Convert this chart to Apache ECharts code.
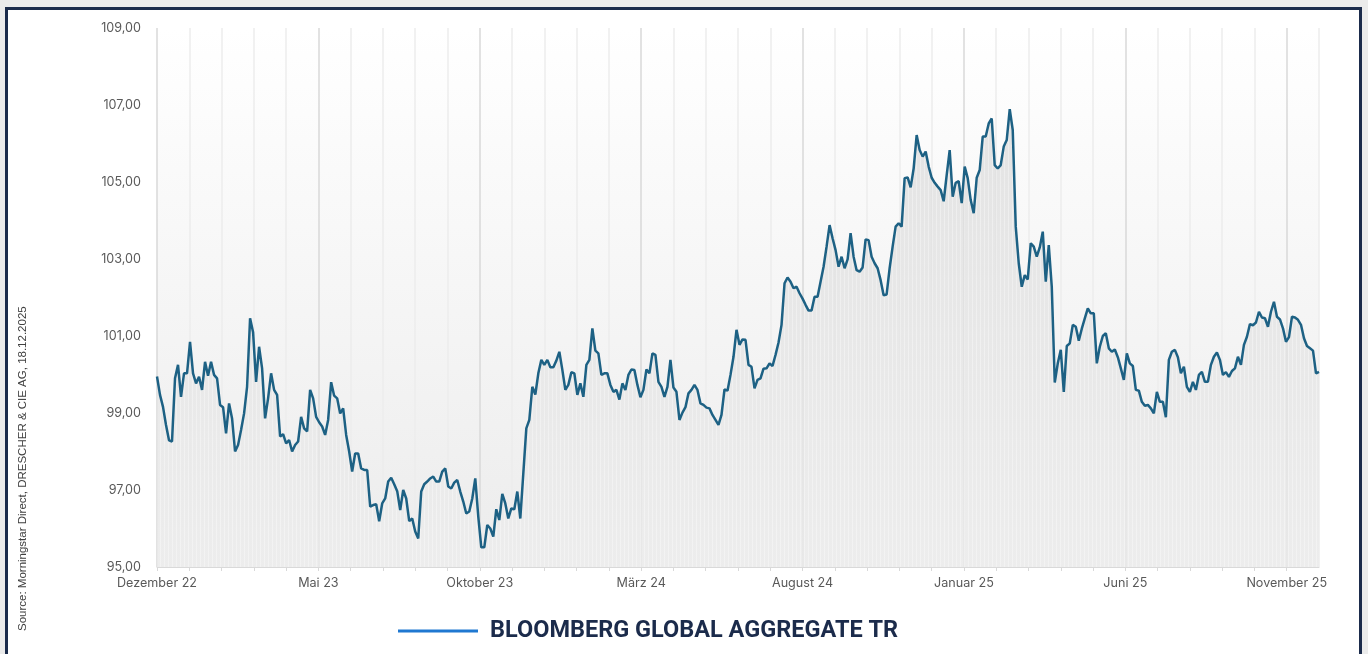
<!DOCTYPE html>
<html>
<head>
<meta charset="utf-8">
<script src="https://cdn.jsdelivr.net/npm/echarts@6/dist/echarts.min.js"></script>
<style>
  html, body { margin: 0; padding: 0; background: #ebebeb; overflow: hidden; }
  #frame { position: absolute; left: 5px; top: 7px; width: 1357px; height: 700px; box-sizing: border-box;
           border: 3px solid #1b2b4b; background: #fff; }
  #chart { position: absolute; left: 0; top: 0; width: 1368px; height: 654px; }
</style>
</head>
<body>
<div id="frame"></div>
<div id="chart"></div>
<script>
'use strict';

// ---- palette ----
const C = { line: '#1d6184', legend: '#1f78d1', label: '#595959', grid: '#ececec', gridMajor: '#d9d9d9', ink: '#1b2b4b' };

// ---- data: Bloomberg Global Aggregate TR, Dec 2022 .. Dec 2025 ----
const SERIES_NAME = 'BLOOMBERG GLOBAL AGGREGATE TR';
const MONTHS = 36; // Dezember 22 -> Dezember 25
const xLabels = ['Dezember 22', 'Mai 23', 'Oktober 23', 'März 24', 'August 24', 'Januar 25', 'Juni 25', 'November 25'];
const yTicks = [95, 97, 99, 101, 103, 105, 107, 109];

const values2023a = [
  99.95, 99.47, 99.16, 98.69, 98.29, 98.26, 99.90, 100.25, 99.42, 100.03,
  100.03, 100.85, 100.03, 99.77, 99.94, 99.60, 100.33, 99.97, 100.33, 99.99,
  99.90, 99.21, 99.15, 98.47, 99.25, 98.86, 98.00, 98.17, 98.56, 98.99,
  99.68, 101.46, 101.10, 99.81, 100.72, 100.16, 98.86, 99.38, 100.03, 99.60,
  99.47, 98.39, 98.45, 98.21, 98.30, 98.00, 98.17, 98.26, 98.90, 98.60,
  98.52, 99.60, 99.38, 98.90, 98.76, 98.65, 98.43, 98.82, 99.80, 99.45,
  99.38, 98.99, 99.12, 98.43, 98.00, 97.48, 97.95, 97.95, 97.56, 97.52,
  97.52, 96.57, 96.61, 96.63, 96.19, 96.65, 96.78, 97.22, 97.32, 97.15,
  96.97, 96.48, 97.00, 96.78, 96.19, 96.26, 95.92, 95.74, 96.96, 97.15,
  97.22, 97.30, 97.35, 97.22, 97.22, 97.48, 97.56, 97.09
];
const values2023b = [
  97.04, 97.19, 97.26, 96.96, 96.70, 96.39, 96.44, 96.78, 97.30, 96.31,
  95.51, 95.51, 96.09, 96.00, 95.79, 96.50, 96.22, 96.90, 96.65, 96.26,
  96.52, 96.50, 96.96, 96.26, 97.43, 98.60, 98.82, 99.68, 99.48, 100.03,
  100.38, 100.25, 100.38, 100.19, 100.19, 100.36, 100.59, 100.12, 99.60, 99.73,
  100.06, 100.03, 99.47, 99.77, 99.42, 100.25, 100.38, 101.20, 100.62, 100.55,
  99.99, 100.03, 100.03, 99.73, 99.55, 99.60, 99.35, 99.77, 99.60, 99.99,
  100.13, 100.12, 99.73, 99.41, 99.60, 100.13, 100.03, 100.55, 100.51, 99.81,
  99.68, 99.42, 99.68, 100.38, 99.66, 99.55, 98.82, 99.01, 99.15, 99.51,
  99.60, 99.73, 99.60, 99.25, 99.21, 99.14, 99.12, 98.95, 98.82, 98.69,
  98.95, 99.61, 99.58, 99.99, 100.46, 101.16, 100.77
];
const values2024 = [
  100.91, 100.90, 100.25, 100.20, 99.64, 99.86, 99.90, 100.15, 100.16, 100.29,
  100.22, 100.51, 100.83, 101.29, 102.37, 102.52, 102.41, 102.24, 102.28, 102.11,
  101.97, 101.81, 101.66, 101.66, 102.02, 102.02, 102.41, 102.80, 103.32, 103.88,
  103.54, 103.23, 102.80, 103.06, 102.76, 102.99, 103.67, 103.06, 102.71, 102.67,
  102.78, 103.51, 103.49, 103.06, 102.89, 102.76, 102.45, 102.06, 102.08, 102.76,
  103.32, 103.84, 103.93, 103.84, 105.10, 105.12, 104.86, 105.35, 106.22, 105.83,
  105.66, 105.79, 105.40, 105.11, 104.98, 104.88, 104.79, 104.50, 105.18, 105.83,
  104.62, 104.98, 105.02, 104.45, 105.40, 105.10, 104.53, 104.19, 105.11, 105.31,
  106.18, 106.18, 106.52, 106.65, 105.44, 105.35, 105.44, 105.92, 106.09, 106.89,
  106.35, 103.84, 102.89, 102.28, 102.58, 102.47, 103.41
];
const values2025 = [
  103.32, 103.06, 103.30, 103.71, 102.41, 103.36, 102.28, 99.79, 100.29, 100.64,
  99.55, 100.74, 100.81, 101.29, 101.24, 100.88, 101.19, 101.46, 101.72, 101.59,
  101.59, 100.29, 100.72, 101.00, 101.07, 100.68, 100.59, 100.65, 100.45, 100.16,
  99.86, 100.55, 100.29, 100.22, 99.60, 99.58, 99.29, 99.19, 99.21, 99.12,
  98.99, 99.55, 99.29, 99.29, 98.89, 100.38, 100.59, 100.64, 100.45, 100.03,
  100.20, 99.68, 99.55, 99.81, 99.60, 99.99, 100.07, 99.81, 99.81, 100.25,
  100.46, 100.57, 100.38, 99.99, 100.06, 99.94, 100.09, 100.16, 100.46, 100.25,
  100.77, 100.98, 101.31, 101.28, 101.35, 101.63, 101.48, 101.46, 101.24, 101.63,
  101.89, 101.50, 101.43, 101.20, 100.85, 100.97, 101.50, 101.48, 101.42, 101.29,
  100.94, 100.74, 100.68, 100.62, 100.03, 100.07
];

const values = [...values2023a, ...values2023b, ...values2024, ...values2025];
// evenly spaced observations across the window, x in months since Dezember 22
const points = values.map((v, i) => [i * MONTHS / (values.length - 1), v]);

const fmtY = v => v.toFixed(2).replace('.', ',');
const axisText = { color: C.label, fontSize: 12.6, fontFamily: 'Inter' };

// faint vertical hatching like the Excel area fill
const hatch = document.createElement('canvas');
hatch.width = 4; hatch.height = 4;
const hctx = hatch.getContext('2d');
hctx.fillStyle = 'rgba(255,255,255,0.5)';
hctx.fillRect(0, 0, 1, 4);

const areaOnly = (name, z, color) => ({
  name, type: 'line', data: points, symbol: 'none', silent: true, z,
  lineStyle: { width: 0, opacity: 0 }, areaStyle: { origin: 'start', color }
});

const chart = echarts.init(document.getElementById('chart'));
chart.setOption({
  animation: false,
  backgroundColor: 'transparent',
  grid: {
    left: 157, right: 49, top: 28, bottom: 87, show: true, borderWidth: 0,
    backgroundColor: new echarts.graphic.LinearGradient(0, 0, 0, 1, [
      { offset: 0, color: '#ffffff' }, { offset: 1, color: '#ececec' }
    ])
  },
  xAxis: {
    type: 'value', min: 0, max: MONTHS, interval: 1,
    axisLine: { show: true, lineStyle: { color: C.gridMajor, width: 1 } },
    axisTick: { show: true, length: 4, lineStyle: { color: C.gridMajor } },
    axisLabel: { ...axisText, margin: 10, showMaxLabel: false, formatter: v => (v % 5 === 0 ? xLabels[v / 5] || '' : '') },
    splitLine: { show: true, lineStyle: { width: 1.5, color: [C.gridMajor, C.grid, C.grid, C.grid, C.grid] } }
  },
  yAxis: {
    type: 'value', min: yTicks[0], max: yTicks[yTicks.length - 1], interval: 2,
    axisLine: { show: false }, axisTick: { show: false }, splitLine: { show: false },
    axisLabel: { ...axisText, margin: 16, formatter: fmtY }
  },
  legend: {
    left: 398, top: 619, padding: 0, icon: 'rect', itemWidth: 80, itemHeight: 3,
    data: [{ name: SERIES_NAME, itemStyle: { color: C.legend } }],
    textStyle: { color: C.ink, fontSize: 23.5, fontWeight: 'bold', fontFamily: 'Roboto', padding: [0, 0, 0, 7] }
  },
  graphic: [{
    type: 'text', x: 23, y: 631, rotation: Math.PI / 2,
    style: { text: 'Source: Morningstar Direct, DRESCHER & CIE AG, 18.12.2025', fill: '#404040',
             font: '11.5px "Liberation Sans"', textAlign: 'left', textVerticalAlign: 'middle' }
  }],
  series: [
    areaOnly('fill', 1, new echarts.graphic.LinearGradient(0, 0, 0, 1, [
      { offset: 0, color: '#d9d9d9' }, { offset: 1, color: '#ededed' }
    ])),
    areaOnly('hatch', 2, { image: hatch, repeat: 'repeat' }),
    {
      name: SERIES_NAME, type: 'line', data: points, symbol: 'none', smooth: false, z: 3,
      lineStyle: { color: C.line, width: 2.5 },
      itemStyle: { color: C.line }
    }
  ]
});
</script>
</body>
</html>
